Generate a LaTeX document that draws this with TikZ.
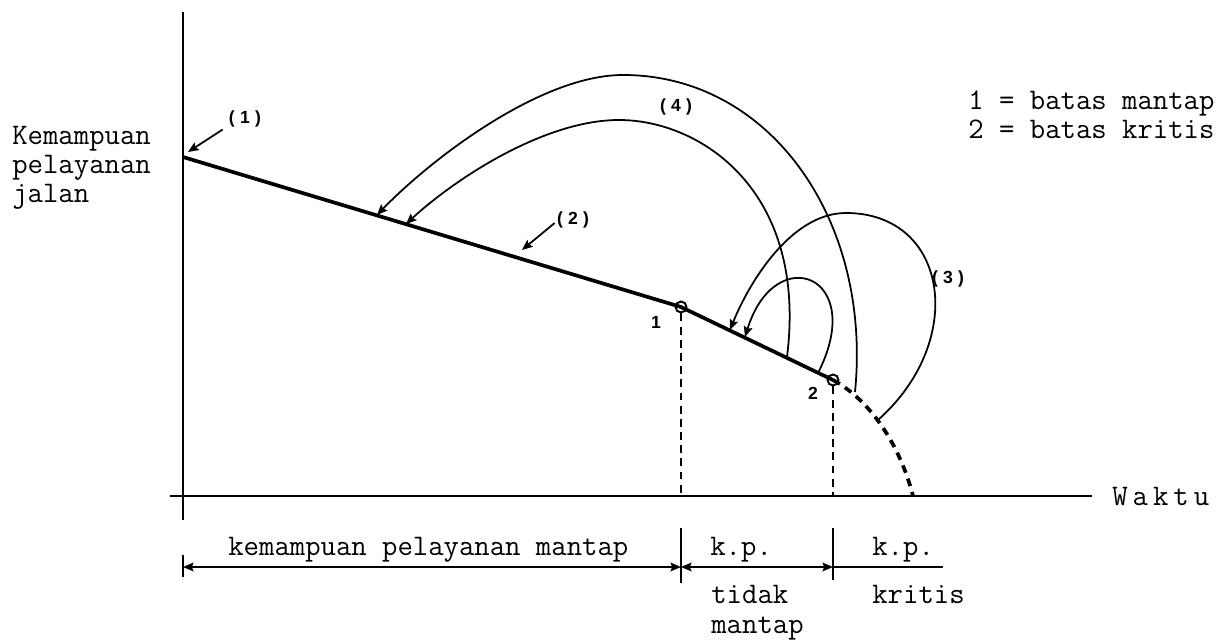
\documentclass[tikz,border=0pt]{standalone}
\usepackage{fontspec}
\setsansfont{Liberation Sans}
\usetikzlibrary{arrows.meta}

\newcommand{\parlbl}[1]{(\kern3pt#1\kern3pt)}

\tikzset{
  txt/.style={font=\ttfamily\fontsize{17}{19}\selectfont, inner sep=0pt, anchor=base west},
  num/.style={font=\sffamily\bfseries\fontsize{10}{12}\selectfont, inner sep=0pt},
  axis/.style={line width=1.3pt},
  service/.style={line width=2.1pt},
  pt/.style={circle, draw, line width=1.1pt, inner sep=0pt, minimum size=0.22cm},
  arc/.style={line width=1pt, ->},
  dashline/.style={line width=1pt, dash pattern=on 4.5pt off 3pt},
  dim/.style={line width=0.8pt}
}

\begin{document}
\begin{tikzpicture}[x=0.02cm, y=-0.02cm, >={Stealth[length=6pt,width=5pt,inset=1pt]}]
  \useasboundingbox (0,0) rectangle (1226,641);

  % --- axes ---
  \coordinate (o) at (183,496);
  \draw[axis] (183,12) -- (183,520);
  \draw[axis] (170,496) -- (1092,496);
  \node[txt] (waktu) at (1112,505) {W\,a\,k\,t\,u};

  \node[txt] (kem) at (12,145) {Kemampuan};
  \node[txt] (pel) at (12,174) {pelayanan};
  \node[txt] (jal) at (12,203) {jalan};

  \node[txt] (leg1) at (968,110) {1 = batas mantap};
  \node[txt] (leg2) at (968,139) {2 = batas kritis};

  % --- service line ---
  \coordinate (s0) at (183,157);
  \node[pt] (p1) at (681,307) {};
  \node[pt] (p2) at (833,380) {};
  \draw[service] (s0) -- (p1.center) -- (p2.center);
  \draw[service, dash pattern=on 4.5pt off 3.5pt] (p2.center)
    .. controls (870,400) and (900,445) .. (913,496);

  \draw[dashline] (p1.south) -- (p1 |- o);
  \draw[dashline] (p2.south) -- (p2 |- o);
  \node[num] (n1) at (656,322) {1};
  \node[num] (n2) at (813,393) {2};

  % --- pointers (1), (2) ---
  \node[num] (L1) at (245,119) {\parlbl{1}};
  \coordinate (a1) at (188,152);
  \draw[arc] ([shift={(-6,2)}]L1.south west) -- (a1);
  \node[num] (L2) at (573,220) {\parlbl{2}};
  \coordinate (a2) at (522,250);
  \draw[arc] ([shift={(-2,3)}]L2.west) -- (a2);

  % --- (4) arcs ---
  \node[num] (L4) at (676,107) {\parlbl{4}};
  \coordinate (e4o) at (855,392);
  \coordinate (t4o) at (377,215);
  \draw[arc] (e4o) .. controls (872,220) and (770,75) .. (623,75)
    .. controls (540,75) and (430,160) .. (t4o);
  \coordinate (e4i) at (787,357);
  \coordinate (t4i) at (406,224);
  \draw[arc] (e4i) .. controls (808,190) and (700,120) .. (619,120)
    .. controls (545,120) and (456,178) .. (t4i);

  % --- (3) loops ---
  \node[num] (L3) at (948,279) {\parlbl{3}};
  \coordinate (e3o) at (878,420);
  \coordinate (t3o) at (730,330);
  \draw[arc] (e3o) .. controls (968,340) and (948,213) .. (846,213)
    .. controls (790,213) and (748,285) .. (t3o);
  \coordinate (e3i) at (818,373);
  \coordinate (t3i) at (745,337);
  \draw[arc] (e3i) .. controls (868,275) and (775,240) .. (t3i);

  % --- bottom dimension ---
  \coordinate (d0) at (183,567);
  \coordinate (d1) at (681,567);
  \coordinate (d2) at (833,567);
  \coordinate (d3) at (943,567);
  \draw[dim] (183,555) -- (183,577);
  \draw[dim] (681,528) -- (681,583);
  \draw[dim] (833,528) -- (833,580);
  \draw[dim, <->] (d0) -- (d1);
  \draw[dim, <->] (d1) -- (d2);
  \draw[dim] (d2) -- (d3);

  \node[txt] (kpm) at (228,555) {kemampuan pelayanan mantap};
  \node[txt] (kp1) at (710,555) {k.p.};
  \node[txt] (kp2) at (872,555) {k.p.};
  \node[txt] (tdk) at (711,603) {tidak};
  \node[txt] (mtp) at (711,633) {mantap};
  \node[txt] (krt) at (872,603) {kritis};
\end{tikzpicture}
\end{document}
